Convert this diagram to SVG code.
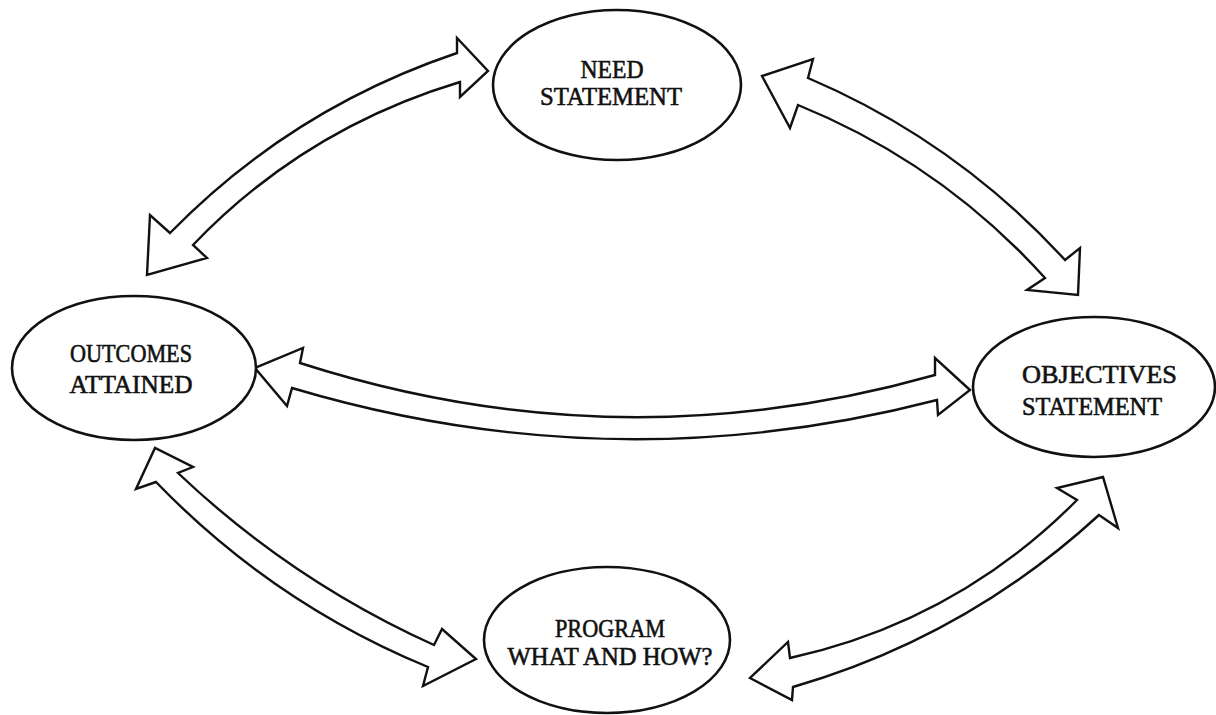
<svg xmlns="http://www.w3.org/2000/svg" width="1216" height="715" viewBox="0 0 1216 715">
<style>
.node ellipse{fill:#fff;stroke:#111;stroke-width:2.6}
.node text{font-family:"Liberation Serif","DejaVu Serif",serif;font-size:26px;fill:#111;stroke:#111;stroke-width:0.6}
.arrow{fill:#fff;stroke:#111;stroke-width:2.4;stroke-linejoin:miter}
</style>
<rect width="1216" height="715" fill="#fff"/>
<g id="connectors">
<path class="arrow" d="M457,53 Q291,109 170,233 L150,215 L147,275 L207,258 L193,245 Q304,129 460,82 L460,97 L488,71 L457,38 Z"/>
<path class="arrow" d="M808,78 Q956,141 1065,260 L1080,248 L1078,295 L1027,290 L1045,278 Q941,163 798,105 L790,128 L762,76 L813,59 Z"/>
<path class="arrow" d="M300,363 Q617,465 935,375 L935,358 L970,390 L938,415 L937,400 Q614,484 292,388 L287,406 L255,368 L303,348 Z"/>
<path class="arrow" d="M178,473 Q292,581 434,645 L442,629 L476,659 L423,686 L428,667 Q273,603 156,482 L136,489 L155,448 L193,467 Z"/>
<path class="arrow" d="M790,658 Q957,621 1077,500 L1057,488 L1103,477 L1118,528 L1099,515 Q966,637 793,687 L792,700 L750,678 L788,642 Z"/>
</g>
<g id="need" class="node">
<ellipse cx="617" cy="85" rx="124" ry="75"/>
<text x="612" y="78" text-anchor="middle" textLength="63" lengthAdjust="spacingAndGlyphs">NEED</text>
<text x="611" y="105" text-anchor="middle" textLength="142" lengthAdjust="spacingAndGlyphs">STATEMENT</text>
</g>
<g id="outcomes" class="node">
<ellipse cx="134" cy="368" rx="122" ry="72"/>
<text x="131" y="362" text-anchor="middle" textLength="122" lengthAdjust="spacingAndGlyphs">OUTCOMES</text>
<text x="131" y="393" text-anchor="middle" textLength="123" lengthAdjust="spacingAndGlyphs">ATTAINED</text>
</g>
<g id="objectives" class="node">
<ellipse cx="1094" cy="387" rx="121" ry="70"/>
<text x="1022" y="383" textLength="155" lengthAdjust="spacingAndGlyphs">OBJECTIVES</text>
<text x="1022" y="415" textLength="140" lengthAdjust="spacingAndGlyphs">STATEMENT</text>
</g>
<g id="program" class="node">
<ellipse cx="607" cy="640" rx="123" ry="73"/>
<text x="610" y="637" text-anchor="middle" textLength="110" lengthAdjust="spacingAndGlyphs">PROGRAM</text>
<text x="610" y="665" text-anchor="middle" textLength="205" lengthAdjust="spacingAndGlyphs">WHAT AND HOW?</text>
</g>
</svg>
